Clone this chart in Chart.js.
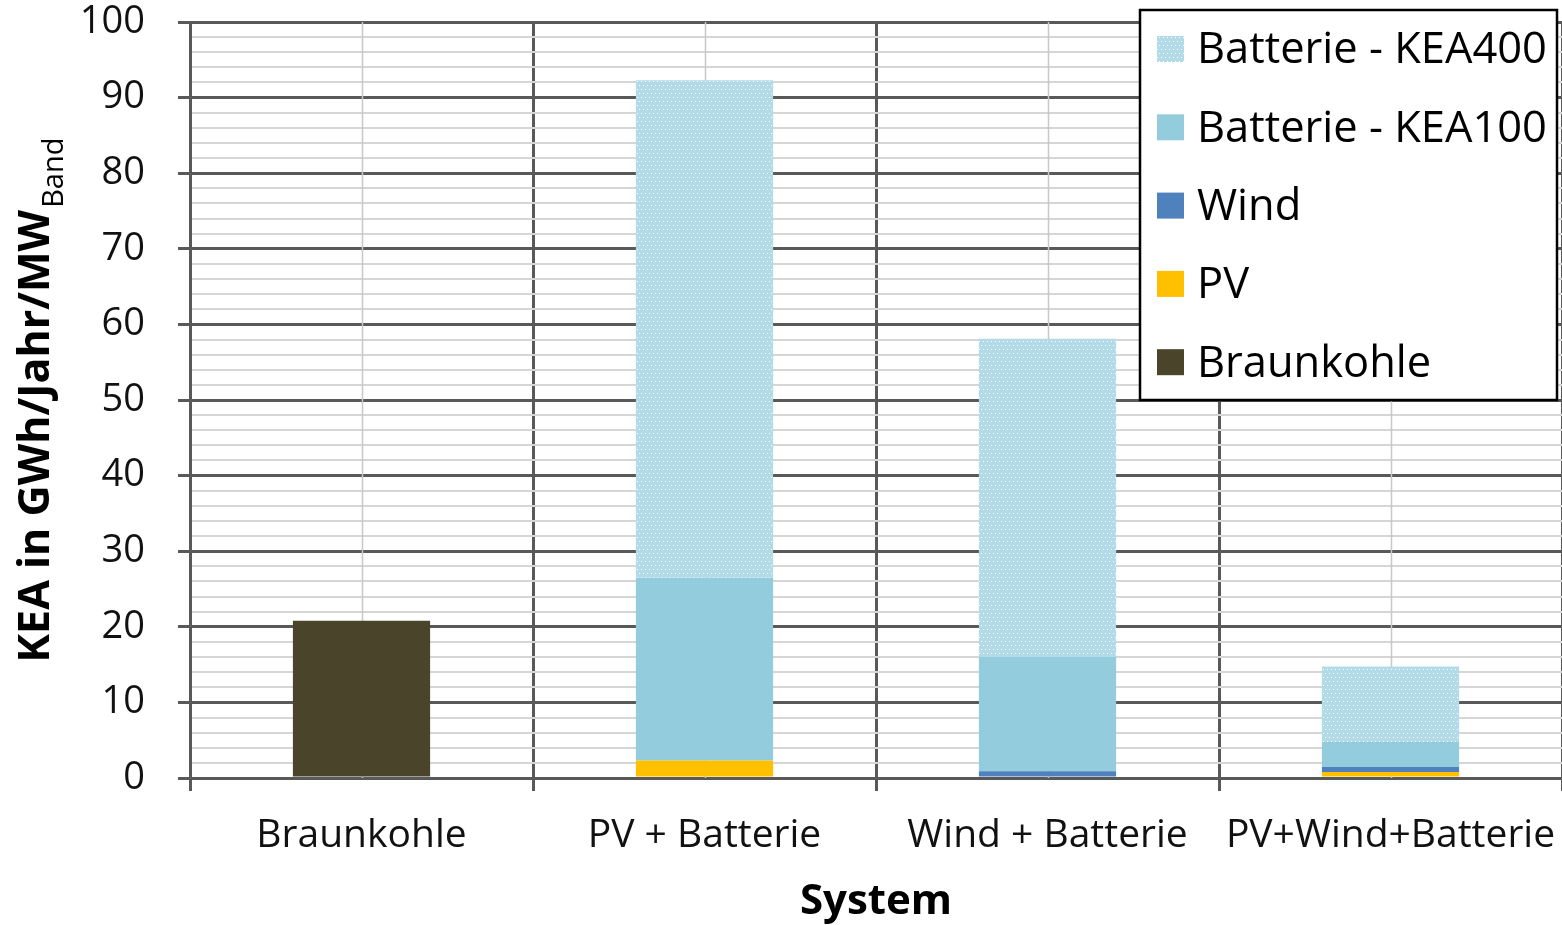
<!DOCTYPE html>
<html>
<head>
<meta charset="utf-8">
<script src="https://cdn.jsdelivr.net/npm/chart.js@4"></script>
<style>
  html, body { margin: 0; padding: 0; background: #fff; }
  canvas { display: block; }
</style>
</head>
<body>
<canvas id="kea-chart" width="1562" height="925"></canvas>
<script>
// KEA per system, GWh/Jahr/MW_Band, stacked bottom to top
const systems = ['Braunkohle', 'PV + Batterie', 'Wind + Batterie', 'PV+Wind+Batterie'];
const braunkohle = [20.8, null, null, null];
const pv = [null, 2.3, null, 0.8];
const wind = [null, null, 0.9, 0.65];
const kea100 = [null, 24.2, 15.1, 3.3];
const kea400 = [null, 65.8, 42.1, 10.0];

const yMin = 0;
const yMax = 100;
const majorStep = 10;
const minorStep = 2;

const FONT = "'Open Sans', 'Noto Sans', sans-serif";
const DARK = '#595959';
const LIGHT = '#d6d6d6';

// dotted light blue fill for the KEA400 share
function dotPattern() {
    const tile = document.createElement('canvas');
    tile.width = 4;
    tile.height = 8;
    const t = tile.getContext('2d');
    t.fillStyle = '#b3dbe7';
    t.fillRect(0, 0, 4, 8);
    t.fillStyle = 'rgba(255,255,255,0.95)';
    t.fillRect(1, 1, 1, 1);
    t.fillRect(3, 5, 1, 1);
    return t.createPattern(tile, 'repeat');
}

const isMajor = (v) => v % majorStep === 0;

// thin grey line through the middle of each category
const centerLines = {
    id: 'centerLines',
    beforeDatasetsDraw(chart) {
        const { ctx, chartArea, scales } = chart;
        ctx.save();
        ctx.strokeStyle = '#c8c8c8';
        ctx.lineWidth = 1.5;
        systems.forEach((_, i) => {
            const x = Math.round(scales.x.getPixelForValue(i)) + 0.5;
            ctx.beginPath();
            ctx.moveTo(x, chartArea.top);
            ctx.lineTo(x, chartArea.bottom);
            ctx.stroke();
        });
        ctx.restore();
    }
};

// rotated y title with subscript
const yTitle = {
    id: 'yTitle',
    afterDraw(chart) {
        const { ctx, chartArea } = chart;
        const main = 'KEA in GWh/Jahr/MW';
        const sub = 'Band';
        ctx.save();
        ctx.fillStyle = '#000';
        ctx.font = `bold 43px ${FONT}`;
        const wMain = ctx.measureText(main).width;
        ctx.font = `29px ${FONT}`;
        const wSub = ctx.measureText(sub).width;
        const total = wMain + wSub + 2;
        const midY = (chartArea.top + chartArea.bottom) / 2;
        ctx.translate(49, midY + total / 2);
        ctx.rotate(-Math.PI / 2);
        ctx.textBaseline = 'alphabetic';
        ctx.textAlign = 'left';
        ctx.font = `bold 43px ${FONT}`;
        ctx.fillText(main, 0, 0);
        ctx.font = `29px ${FONT}`;
        ctx.fillText(sub, wMain + 2, 14);
        ctx.restore();
    }
};

// framed legend in the top right corner, top series first
const boxLegend = {
    id: 'boxLegend',
    afterDraw(chart) {
        const { ctx, chartArea } = chart;
        const left = chartArea.right - 422;
        const top = chartArea.top - 12;
        const width = 417;
        const height = 390;
        ctx.save();
        ctx.fillStyle = '#fff';
        ctx.fillRect(left, top, width, height);
        ctx.strokeStyle = '#000';
        ctx.lineWidth = 2.5;
        ctx.strokeRect(left, top, width, height);

        const items = chart.data.datasets.slice().reverse();
        ctx.font = `40px ${FONT}`;
        const longest = Math.max(...items.map(d => ctx.measureText(d.label).width));
        const size = 40 * 350 / longest;
        ctx.font = `${size}px ${FONT}`;
        ctx.textBaseline = 'middle';
        ctx.textAlign = 'left';
        items.forEach((ds, i) => {
            const y = top + 39 + i * 78.3;
            ctx.fillStyle = ds.backgroundColor;
            ctx.fillRect(left + 17, y - 13, 27, 26);
            ctx.fillStyle = '#000';
            ctx.fillText(ds.label, left + 57, y + 2);
        });
        ctx.restore();
    }
};

const ctx = document.getElementById('kea-chart').getContext('2d');
new Chart(ctx, {
    type: 'bar',
    data: {
        labels: systems,
        datasets: [
            { label: 'Braunkohle', data: braunkohle, backgroundColor: '#4a442a' },
            { label: 'PV', data: pv, backgroundColor: '#ffc000' },
            { label: 'Wind', data: wind, backgroundColor: '#4f81bd' },
            { label: 'Batterie - KEA100', data: kea100, backgroundColor: '#93cddd' },
            { label: 'Batterie - KEA400', data: kea400, backgroundColor: dotPattern() }
        ]
    },
    options: {
        responsive: false,
        animation: false,
        devicePixelRatio: 1,
        layout: { padding: { top: 22, right: 0, bottom: 0, left: 0 } },
        datasets: {
            bar: { barPercentage: 0.4, categoryPercentage: 1.0, borderWidth: 0 }
        },
        plugins: {
            legend: { display: false },
            tooltip: { enabled: false }
        },
        scales: {
            x: {
                stacked: true,
                offset: true,
                z: 1,
                grid: {
                    offset: true,
                    color: DARK,
                    lineWidth: 3,
                    tickLength: 13,
                    tickColor: DARK,
                    tickWidth: 3
                },
                border: { color: DARK, width: 3 },
                ticks: {
                    autoSkip: false,
                    maxRotation: 0,
                    padding: 21,
                    color: '#111',
                    font: { family: FONT, size: 39, lineHeight: 1.2 }
                },
                title: {
                    display: true,
                    text: 'System',
                    color: '#000',
                    font: { family: FONT, size: 42, weight: 'bold', lineHeight: 1 },
                    padding: { top: 0, bottom: 2 }
                },
                afterFit(scale) {
                    scale.height = 147;
                    scale.paddingLeft = 0;
                    scale.paddingRight = 0;
                }
            },
            y: {
                stacked: true,
                min: yMin,
                max: yMax,
                ticks: {
                    stepSize: minorStep,
                    autoSkip: false,
                    padding: 33,
                    color: '#111',
                    font: { family: FONT, size: 38, lineHeight: 1 },
                    callback: (v) => (isMajor(v) ? v : '')
                },
                grid: {
                    color: (c) => (isMajor(c.tick.value) ? DARK : LIGHT),
                    lineWidth: (c) => (isMajor(c.tick.value) ? 3 : 2),
                    tickLength: 12,
                    tickWidth: 3,
                    tickColor: (c) => (isMajor(c.tick.value) ? DARK : 'rgba(0,0,0,0)')
                },
                border: { color: DARK, width: 3 },
                afterFit(scale) {
                    scale.width = 190;
                    scale.paddingTop = 0;
                    scale.paddingBottom = 0;
                }
            }
        }
    },
    plugins: [centerLines, yTitle, boxLegend]
});
</script>
</body>
</html>
